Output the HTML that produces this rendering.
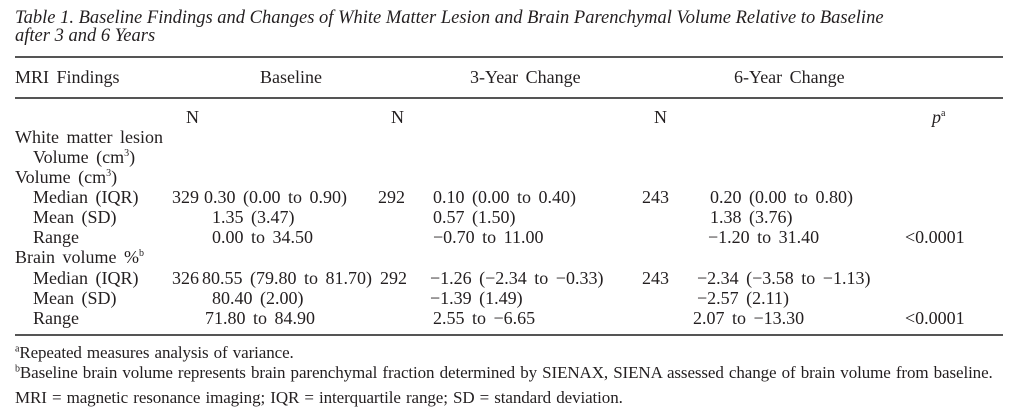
<!DOCTYPE html>
<html><head><meta charset="utf-8">
<style>
body{margin:0;width:1020px;height:414px;background:#fff;position:relative;overflow:hidden;font-family:"Liberation Serif",serif;color:#231f20}
.t{position:absolute;font-size:18px;line-height:20px;white-space:nowrap;word-spacing:3px}
.ti{font-style:italic;font-size:18.5px;word-spacing:0}
.f{font-size:17px;letter-spacing:-0.1px;word-spacing:1px}
.rule{position:absolute;left:15px;width:988px;background:#555}
sup{font-size:10px;line-height:0}
</style></head><body>
<div class="t ti" style="left:15px;top:8px">Table 1. Baseline Findings and Changes of White Matter Lesion and Brain Parenchymal Volume Relative to Baseline</div>
<div class="t ti" style="left:15px;top:26px">after 3 and 6 Years</div>
<div class="rule" style="top:56px;height:1.5px"></div>
<div class="rule" style="top:97px;height:1.5px"></div>
<div class="rule" style="top:334px;height:1.5px"></div>

<div class="t" style="left:15px;top:67px">MRI Findings</div>
<div class="t" style="left:260px;top:67px">Baseline</div>
<div class="t" style="left:470px;top:67px">3-Year Change</div>
<div class="t" style="left:734px;top:67px">6-Year Change</div>

<div class="t" style="left:186px;top:107px">N</div>
<div class="t" style="left:391px;top:107px">N</div>
<div class="t" style="left:654px;top:107px">N</div>
<div class="t" style="left:932px;top:107px"><i>p</i><sup>a</sup></div>

<div class="t" style="left:15px;top:127px">White matter lesion</div>
<div class="t" style="left:33px;top:147px">Volume (cm<sup>3</sup>)</div>
<div class="t" style="left:15px;top:167px">Volume (cm<sup>3</sup>)</div>

<div class="t" style="left:33px;top:187px">Median (IQR)</div>
<div class="t" style="left:172px;top:187px">329</div>
<div class="t" style="left:204px;top:187px">0.30 (0.00 to 0.90)</div>
<div class="t" style="left:378px;top:187px">292</div>
<div class="t" style="left:433px;top:187px">0.10 (0.00 to 0.40)</div>
<div class="t" style="left:642px;top:187px">243</div>
<div class="t" style="left:710px;top:187px">0.20 (0.00 to 0.80)</div>

<div class="t" style="left:33px;top:207px">Mean (SD)</div>
<div class="t" style="left:212px;top:207px">1.35 (3.47)</div>
<div class="t" style="left:433px;top:207px">0.57 (1.50)</div>
<div class="t" style="left:710px;top:207px">1.38 (3.76)</div>

<div class="t" style="left:33px;top:227px">Range</div>
<div class="t" style="left:212px;top:227px">0.00 to 34.50</div>
<div class="t" style="left:433px;top:227px">−0.70 to 11.00</div>
<div class="t" style="left:708px;top:227px">−1.20 to 31.40</div>
<div class="t" style="left:905px;top:227px">&lt;0.0001</div>

<div class="t" style="left:15px;top:247px">Brain volume %<sup>b</sup></div>

<div class="t" style="left:33px;top:268px">Median (IQR)</div>
<div class="t" style="left:172px;top:268px">326</div>
<div class="t" style="left:202px;top:268px">80.55 (79.80 to 81.70)</div>
<div class="t" style="left:380px;top:268px">292</div>
<div class="t" style="left:430px;top:268px">−1.26 (−2.34 to −0.33)</div>
<div class="t" style="left:642px;top:268px">243</div>
<div class="t" style="left:697px;top:268px">−2.34 (−3.58 to −1.13)</div>

<div class="t" style="left:33px;top:288px">Mean (SD)</div>
<div class="t" style="left:212px;top:288px">80.40 (2.00)</div>
<div class="t" style="left:430px;top:288px">−1.39 (1.49)</div>
<div class="t" style="left:697px;top:288px">−2.57 (2.11)</div>

<div class="t" style="left:33px;top:308px">Range</div>
<div class="t" style="left:205px;top:308px">71.80 to 84.90</div>
<div class="t" style="left:433px;top:308px">2.55 to −6.65</div>
<div class="t" style="left:693px;top:308px">2.07 to −13.30</div>
<div class="t" style="left:905px;top:308px">&lt;0.0001</div>

<div class="t f" style="left:15px;top:343px"><sup>a</sup>Repeated measures analysis of variance.</div>
<div class="t f" style="left:15px;top:363px"><sup>b</sup>Baseline brain volume represents brain parenchymal fraction determined by SIENAX, SIENA assessed change of brain volume from baseline.</div>
<div class="t f" style="left:15px;top:388px">MRI = magnetic resonance imaging; IQR = interquartile range; SD = standard deviation.</div>
</body></html>
